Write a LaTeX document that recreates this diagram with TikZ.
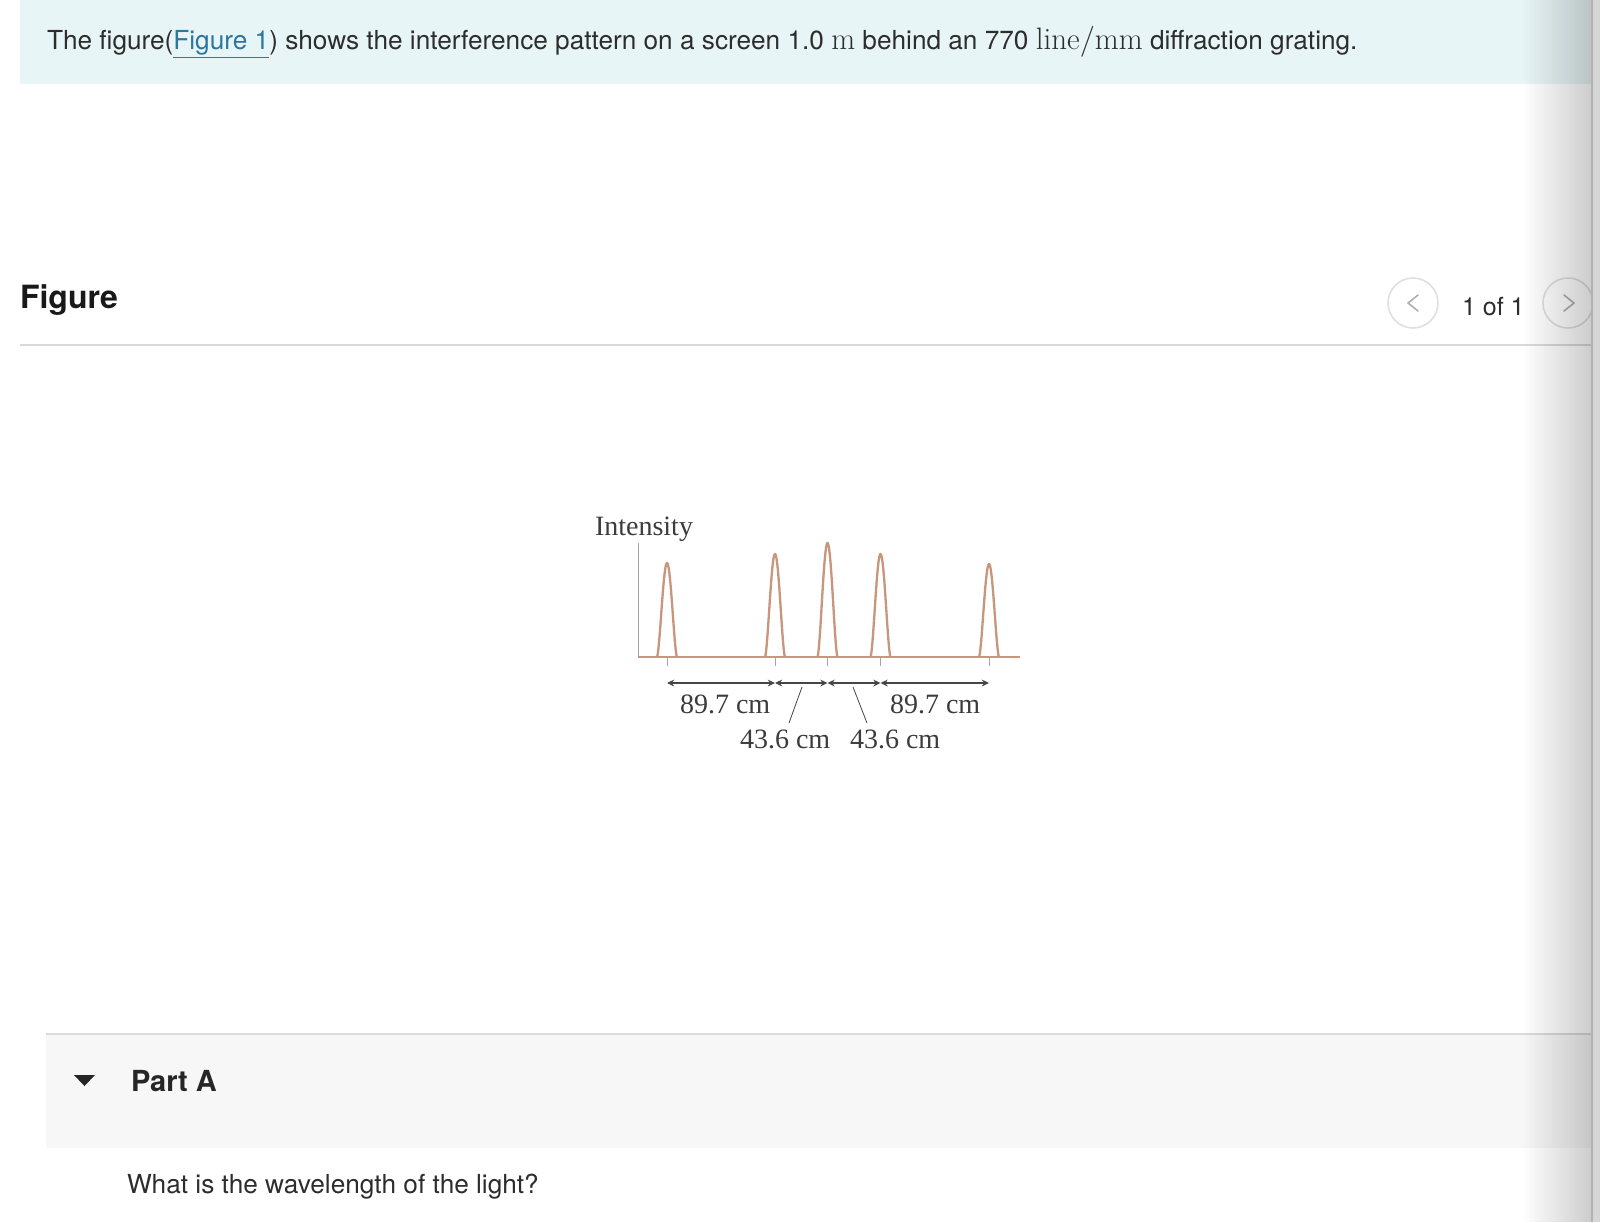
\RequirePackage{fix-cm}
\documentclass[tikz,border=0pt]{standalone}
\usepackage{fontspec}
\usetikzlibrary{arrows.meta,fadings}
\newfontfamily\uisans{TeX Gyre Heros}
\newfontfamily\figserif{Liberation Serif}
\definecolor{bannercyan}{RGB}{232,245,246}
\definecolor{textgray}{RGB}{45,45,45}
\definecolor{linkblue}{RGB}{44,119,158}
\definecolor{rulegray}{RGB}{218,218,218}
\definecolor{navgray}{RGB}{224,224,224}
\definecolor{chevgray}{RGB}{175,175,175}
\definecolor{bandgray}{RGB}{247,247,247}
\definecolor{peakbrown}{RGB}{199,150,124}
\definecolor{axisgray}{RGB}{165,165,165}
\definecolor{dimgray}{RGB}{70,70,70}
\definecolor{labelgray}{RGB}{60,60,60}
\tikzfading[name=shaderight,left color=transparent!100,middle color=transparent!85,right color=transparent!0]
\newcommand\mathbig[1]{{\fontsize{15.5}{16}\selectfont$#1$}}
\begin{document}
\begin{tikzpicture}[x=0.5pt,y=-0.5pt,inner sep=0pt,outer sep=0pt,
uitext/.style={anchor=base west,text=textgray,font=\uisans\fontsize{13.1}{16}\selectfont},
headtext/.style={anchor=base west,text=black!90,font=\uisans\bfseries\fontsize{16}{18}\selectfont},
parttext/.style={anchor=base west,text=black!85,font=\uisans\bfseries\fontsize{14.5}{17}\selectfont},
figlabel/.style={anchor=base west,text=labelgray,font=\figserif\fontsize{14}{16}\selectfont},
peak/.style={draw=peakbrown,line width=1.15pt,line join=round},
dimline/.style={draw=dimgray,line width=0.6pt,{Stealth[length=3.6pt,width=3.4pt]}-{Stealth[length=3.6pt,width=3.4pt]}},
navring/.style={draw=navgray,line width=0.8pt,circle,minimum size=25pt},
chevron/.style={draw=chevgray,line width=0.8pt,line cap=round,line join=round}]
\useasboundingbox (0,0) rectangle (1600,1222);
\fill[white] (0,0) rectangle (1600,1222);
\fill[bannercyan] (20,0) rectangle (1600,84);
\node[uitext] (intro) at (47,49) {The figure(\textcolor{linkblue}{\underline{Figure 1}}) shows the interference pattern on a screen 1.0 \mathbig{\mathrm{m}} behind an 770 \mathbig{\mathrm{line}/\mathrm{mm}} diffraction grating.};
\node[headtext] (figtitle) at (20,308) {Figure};
\node[navring] (prev) at (1413,303) {};
\node[navring] (next) at (1568,303) {};
\draw[chevron] ([xshift=2.5pt,yshift=4pt]prev.center) -- ++(-10,8) -- ++(10,8);
\draw[chevron] ([xshift=-2pt,yshift=4pt]next.center) -- ++(10,8) -- ++(-10,8);
\node[uitext,font=\uisans\fontsize{12.5}{15}\selectfont] (pageno) at (1462,315) {1 of 1};
\draw[rulegray,line width=1pt] (20,345) -- (1600,345);
\draw[axisgray,line width=0.5pt] (638,543) -- (638,657);
\draw[peak] (638,657) -- (1020,657);
\foreach \c/\h in {667/94,775/103,827.5/114,880.5/103,989/93}
  \draw[peak] plot[domain=-10:10,samples=41] ({\c+\x},{657-\h*pow(abs(cos(\x*9)),1.6)});
\foreach \c [count=\i] in {667,775,827.5,880.5,989} {
  \draw[axisgray,line width=0.5pt] (\c,657) -- (\c,666);
  \coordinate (t\i) at (\c,683);
}
\node[figlabel] (ylabel) at (595,535) {Intensity};
\foreach \a/\b in {t1/t2,t2/t3,t3/t4,t4/t5}
  \draw[dimline] (\a) -- (\b);
\node[figlabel] (wideL) at (680,713) {89.7 cm};
\node[figlabel] (wideR) at (890,713) {89.7 cm};
\node[figlabel] (gapL) at (740,748) {43.6 cm};
\node[figlabel] (gapR) at (850,748) {43.6 cm};
\coordinate (leadL) at (802,687);
\coordinate (footL) at (789,723);
\coordinate (leadR) at (853,687);
\coordinate (footR) at (867,723);
\draw[dimgray,line width=0.4pt] (leadL) -- (footL);
\draw[dimgray,line width=0.4pt] (leadR) -- (footR);
\fill[bandgray] (46,1034) rectangle (1600,1148);
\draw[rulegray,line width=1pt] (46,1034) -- (1600,1034);
\fill[black!85] (74,1075) -- (95,1075) -- (84.5,1086) -- cycle;
\node[parttext] (parta) at (131,1091) {Part A};
\node[uitext] (question) at (127,1193) {What is the wavelength of the light?};
\fill[black,opacity=0.2,path fading=shaderight] (1522,0) rectangle (1592,1222);
\fill[black!16] (1592,0) rectangle (1600,1222);
\draw[black!30,line width=0.6pt] (1592,0) -- (1592,1222);
\end{tikzpicture}
\end{document}
